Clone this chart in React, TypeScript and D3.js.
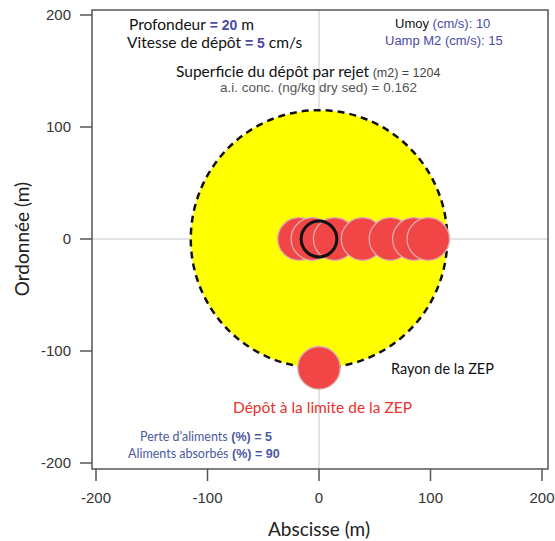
import * as d3 from "d3";

// Axis ticks
const xTicks = [-200, -100, 0, 100, 200];
const yTicks = [200, 100, 0, -100, -200];

// Footprint of the deposits along the current (m)
const depositX = [-18, -6, 14, 39, 64, 85, 98];
const depositY = [0, 0, 0, 0, 0, 0, 0];
const depositRadius = 19;

// Cage and ZEP
const cageRadius = 16;
const zepRadius = 115;
const boundaryDeposit = { x: 0, y: -115 };

const W = 555;
const H = 541;
const box = { left: 92, right: 548, top: 10, bottom: 469 };

const calibri = "Lato, 'Open Sans', sans-serif";
const arial = "'Liberation Sans', Arial, sans-serif";
const blue = "#4a4aa6";

export default function App() {
  const x = d3.scaleLinear().domain([-200, 200]).range([96, 542]);
  const y = d3.scaleLinear().domain([-200, 200]).range([463, 15]);
  const rx = (r: number) => x(r) - x(0);
  const ry = (r: number) => y(0) - y(r);

  return (
    <svg width={W} height={H} style={{ position: "absolute", left: 0, top: 0, background: "#fff" }}>
      {/* reference lines */}
      <line x1={x(0)} x2={x(0)} y1={box.top} y2={box.bottom} stroke="#c8c8c8" />
      <line x1={box.left} x2={box.right} y1={y(0)} y2={y(0)} stroke="#c8c8c8" />

      {/* ZEP */}
      <ellipse cx={x(0)} cy={y(0)} rx={rx(zepRadius)} ry={ry(zepRadius)} fill="#ffff00"
        stroke="#111" strokeWidth={2.5} strokeDasharray="7 5" />

      {depositX.map((d, i) => (
        <ellipse key={i} cx={x(d)} cy={y(depositY[i])} rx={rx(depositRadius)} ry={ry(depositRadius)}
          fill="#f24646" stroke="#dcaaaa" strokeWidth={1.3} />
      ))}
      <ellipse cx={x(0)} cy={y(0)} rx={rx(cageRadius)} ry={ry(cageRadius)} fill="none" stroke="#111" strokeWidth={3} />

      <ellipse cx={x(boundaryDeposit.x)} cy={y(boundaryDeposit.y)} rx={rx(depositRadius)} ry={ry(depositRadius)}
        fill="#f24646" stroke="#dcaaaa" strokeWidth={1.3} />

      {/* frame */}
      <rect x={box.left} y={box.top} width={box.right - box.left} height={box.bottom - box.top}
        fill="none" stroke="#555" strokeWidth={1.5} />

      {/* axes */}
      <g fontFamily={arial} fontSize={15} fill="#333">
        {xTicks.map(t => (
          <g key={t}>
            <line x1={x(t)} x2={x(t)} y1={box.bottom} y2={box.bottom + 12} stroke="#555" strokeWidth={1.5} />
            <text x={x(t)} y={503} textAnchor="middle">{t}</text>
          </g>
        ))}
        {yTicks.map(t => (
          <g key={t}>
            <line x1={box.left - 12} x2={box.left} y1={y(t)} y2={y(t)} stroke="#555" strokeWidth={1.5} />
            <text x={71} y={y(t) + 5} textAnchor="end">{t}</text>
          </g>
        ))}
      </g>
      <text x={x(0)} y={536} textAnchor="middle" fontFamily={calibri} fontSize={19} fill="#222">Abscisse (m)</text>
      <text transform={`translate(29,${y(0)}) rotate(-90)`} textAnchor="middle" fontFamily={calibri} fontSize={19} fill="#222">Ordonnée (m)</text>

      {/* annotations */}
      <text x={129} y={30} fontFamily={calibri} fontSize={15.5} fill="#111">
        Profondeur<tspan fill={blue} fontFamily={arial} fontWeight="bold" fontSize={14}> = 20</tspan> m
      </text>
      <text x={127} y={48} fontFamily={calibri} fontSize={15.5} fill="#111">
        Vitesse de dépôt<tspan fill={blue} fontFamily={arial} fontWeight="bold" fontSize={14}> = 5</tspan> cm/s
      </text>
      <text x={395} y={28} fontFamily={arial} fontSize={13} fill="#111">
        Umoy<tspan fill={blue}> (cm/s): 10</tspan>
      </text>
      <text x={385} y={45} fontFamily={arial} fontSize={13} fill={blue}>Uamp M2 (cm/s): 15</text>
      <text x={176} y={77} fontFamily={calibri} fontSize={15.5} fill="#111">
        Superficie du dépôt par rejet<tspan fontFamily={arial} fontSize={12.5} fill="#444"> (m2) = 1204</tspan>
      </text>
      <text x={220} y={92} fontFamily={arial} fontSize={13.5} fill="#555">a.i. conc. (ng/kg dry sed) = 0.162</text>

      <text x={391} y={374} fontFamily={calibri} fontSize={14.5} fill="#111">Rayon de la ZEP</text>
      <text x={233} y={413} fontFamily={calibri} fontSize={15.5} fill="#e8322e">Dépôt à la limite de la ZEP</text>

      <text x={140} y={441} fontFamily={calibri} fontSize={12.5} fill="#4b5a9e">
        Perte d’aliments<tspan fontFamily={arial} fontWeight="bold" fontSize={12.5}> (%) = 5</tspan>
      </text>
      <text x={128} y={458} fontFamily={calibri} fontSize={12.5} fill="#4b5a9e">
        Aliments absorbés<tspan fontFamily={arial} fontWeight="bold" fontSize={12.5}> (%) = 90</tspan>
      </text>
    </svg>
  );
}
